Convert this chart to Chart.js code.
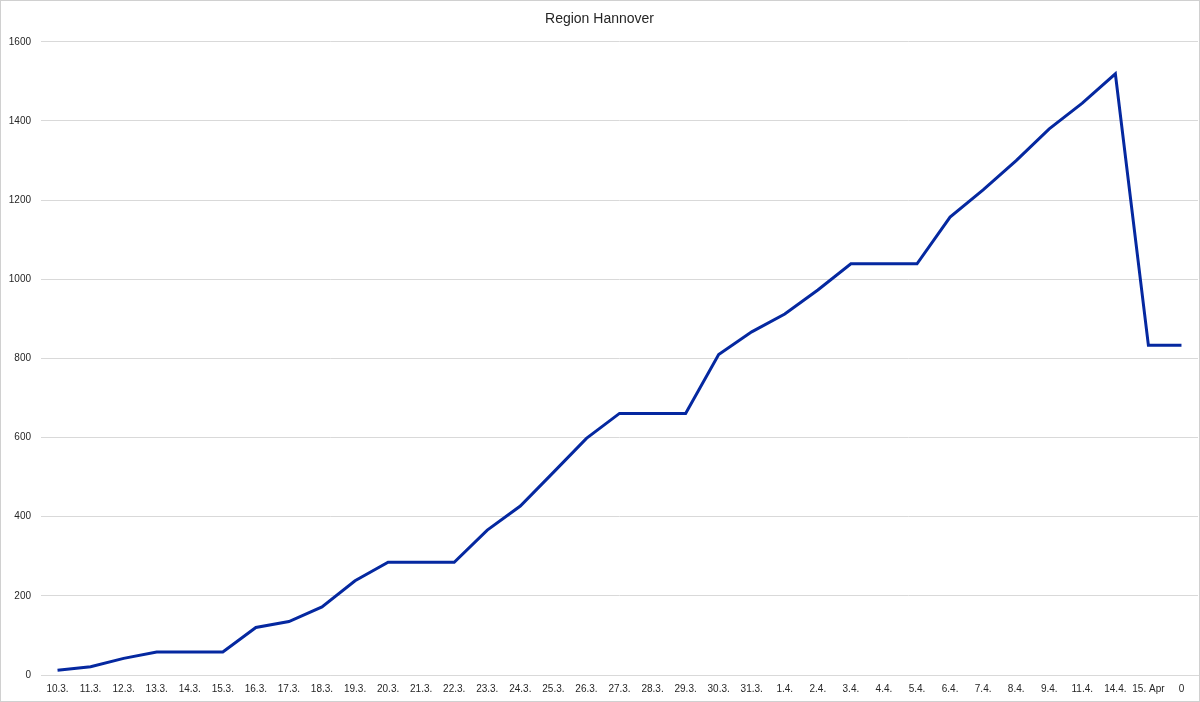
<!DOCTYPE html>
<html>
<head>
<meta charset="utf-8">
<script src="https://cdn.jsdelivr.net/npm/chart.js@4/dist/chart.umd.min.js"></script>
<style>
  body { margin: 0; background: #fff; }
  #wrap {
    position: relative;
    width: 1200px;
    height: 702px;
    box-sizing: border-box;
    border: 1px solid #d0d0d0;
  }
</style>
</head>
<body>
<div id="wrap"><canvas id="chart"></canvas></div>
<script>
const dayLabels = [
  "10.3.", "11.3.", "12.3.", "13.3.", "14.3.", "15.3.", "16.3.", "17.3.", "18.3.", "19.3.",
  "20.3.", "21.3.", "22.3.", "23.3.", "24.3.", "25.3.", "26.3.", "27.3.", "28.3.", "29.3.",
  "30.3.", "31.3.", "1.4.", "2.4.", "3.4.", "4.4.", "5.4.", "6.4.", "7.4.", "8.4.",
  "9.4.", "11.4.", "14.4.", "15. Apr", "0"
];
const cases = [
  12, 21, 42, 58, 58, 58, 120, 135, 172, 238,
  285, 285, 285, 366, 427, 512, 598, 661, 661, 661,
  810, 867, 912, 973, 1039, 1039, 1039, 1157, 1226, 1300,
  1380, 1445, 1519, 833, 833
];
const yMin = 0;
const yMax = 1600;
const yStep = 200;

const ctx = document.getElementById("chart").getContext("2d");

new Chart(ctx, {
  type: "line",
  data: {
    labels: dayLabels,
    datasets: [
      {
        label: "Region Hannover",
        data: cases,
        borderColor: "#0528a0",
        borderWidth: 3,
        pointRadius: 0,
        tension: 0,
        fill: false,
      },
    ],
  },
  options: {
    responsive: true,
    maintainAspectRatio: false,
    animation: false,
    layout: { padding: { left: 0, right: 1, top: 0, bottom: 0 } },
    plugins: {
      legend: { display: false },
      tooltip: { enabled: false },
      title: {
        display: true,
        text: "Region Hannover",
        color: "#262626",
        font: { family: "'Liberation Sans', Arial, sans-serif", size: 14, weight: "normal" },
        padding: { top: 10, bottom: 14 },
      },
    },
    scales: {
      x: {
        offset: true,
        grid: { display: false, drawTicks: false },
        border: { display: true, color: "#d9d9d9", width: 1 },
        ticks: {
          color: "#262626",
          font: { family: "'Liberation Sans', Arial, sans-serif", size: 10 },
          padding: 8,
          maxRotation: 0,
          autoSkip: false,
        },
        afterFit: (scale) => { scale.height = 26; },
      },
      y: {
        min: yMin,
        max: yMax,
        grid: { color: "#d9d9d9", drawTicks: false },
        border: { display: false },
        ticks: {
          stepSize: yStep,
          color: "#262626",
          font: { family: "'Liberation Sans', Arial, sans-serif", size: 10 },
          padding: 10,
          callback: (value) => String(value),
        },
        afterFit: (scale) => { scale.width = 40; },
      },
    },
  },
});
</script>
</body>
</html>
